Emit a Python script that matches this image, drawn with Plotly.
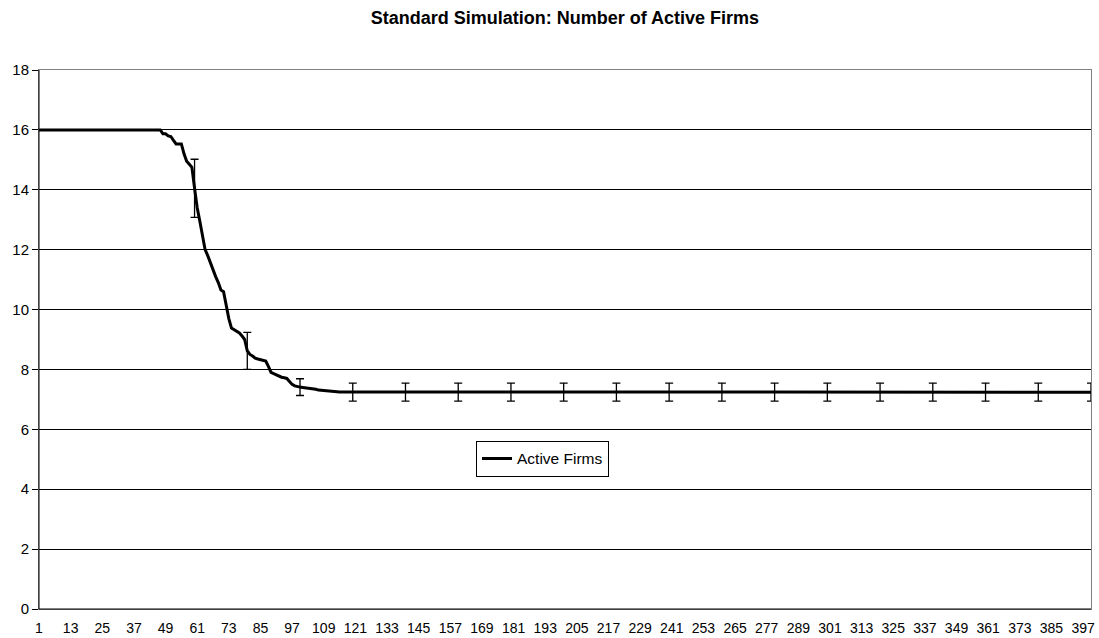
import plotly.graph_objects as go

# ---- data ----
n_periods = 400
plateau_start_value = 16.0
plateau_start_len = 47          # periods 1..47
transition_values = [           # periods 48..119
    15.87, 15.87, 15.80, 15.78, 15.65, 15.53, 15.53, 15.53, 15.20, 14.95,
    14.85, 14.75, 14.05, 13.40, 12.95, 12.40, 12.00, 11.80, 11.55, 11.35,
    11.10, 10.90, 10.65, 10.60, 10.10, 9.70, 9.38, 9.32, 9.28, 9.22,
    9.12, 9.00, 8.62, 8.50, 8.45, 8.38, 8.35, 8.32, 8.30, 8.28,
    8.10, 7.90, 7.86, 7.82, 7.76, 7.74, 7.72, 7.70, 7.60, 7.50,
    7.45, 7.42, 7.41, 7.40, 7.39, 7.39, 7.38, 7.37, 7.34, 7.31,
    7.30, 7.29, 7.28, 7.27, 7.26, 7.26, 7.25, 7.25, 7.25, 7.25,
    7.24, 7.24,
]
plateau_end_value = 7.24

active_firms = ([plateau_start_value] * plateau_start_len + transition_values)
active_firms += [plateau_end_value] * (n_periods - len(active_firms))
periods = list(range(1, n_periods + 1))

errbar_periods = [60, 80, 100, 120, 140, 160, 180, 200, 220, 240, 260, 280,
                  300, 320, 340, 360, 380, 400]
errbar_sizes = [0.97, 0.62, 0.28, 0.30, 0.30, 0.30, 0.30, 0.30, 0.30, 0.30,
                0.30, 0.30, 0.30, 0.30, 0.30, 0.30, 0.30, 0.30]
errbar_values = [active_firms[p - 1] for p in errbar_periods]

xtick_vals = list(range(1, 398, 12))
ytick_vals = [0, 2, 4, 6, 8, 10, 12, 14, 16, 18]

FONT = "Liberation Sans, Arial, sans-serif"

fig = go.Figure()
fig.add_trace(go.Scatter(
    x=errbar_periods, y=errbar_values, mode="markers",
    marker=dict(size=1, color="rgba(0,0,0,0)"),
    error_y=dict(type="data", array=errbar_sizes, visible=True,
                 color="black", thickness=1.3, width=4),
    showlegend=False, hoverinfo="skip",
))
fig.add_trace(go.Scatter(
    x=periods, y=active_firms, mode="lines", name="Active Firms",
    line=dict(color="black", width=3),
))

fig.update_layout(
    width=1099, height=638,
    margin=dict(l=39, r=8, t=70, b=29, autoexpand=False),
    paper_bgcolor="white", plot_bgcolor="white",
    font=dict(family=FONT, color="black", size=15),
    title=dict(text="<b>Standard Simulation: Number of Active Firms</b>",
               x=0.514, xanchor="center", y=0.972, yanchor="middle",
               font=dict(family=FONT, size=18, color="black")),
    showlegend=True,
    legend=dict(x=0.4154, y=0.312, xanchor="left", yanchor="top",
                bgcolor="white", bordercolor="black", borderwidth=1,
                font=dict(family=FONT, size=15.5, color="black"),
                itemwidth=30, tracegroupgap=0),
)
fig.update_xaxes(
    range=[1, 400], tickmode="array", tickvals=xtick_vals,
    ticktext=[str(v) for v in xtick_vals],
    showgrid=False, zeroline=False, automargin=False,
    showline=True, linecolor="#808080", linewidth=1, mirror=True,
    ticks="", ticklabelstandoff=6,
    tickfont=dict(family=FONT, size=14, color="black"),
)
fig.update_yaxes(
    range=[0, 18], tickmode="array", tickvals=ytick_vals,
    showgrid=True, gridcolor="black", gridwidth=1, zeroline=False,
    automargin=False,
    showline=True, linecolor="#808080", linewidth=1, mirror=True,
    ticks="outside", ticklen=6, tickcolor="black",
    tickfont=dict(family=FONT, size=15, color="black"),
)
# black left and bottom axis lines over the grey frame
fig.add_shape(type="line", xref="paper", yref="paper", x0=0, x1=0, y0=0, y1=1,
              line=dict(color="black", width=1))
fig.add_shape(type="line", xref="paper", yref="paper", x0=0, x1=1, y0=0, y1=0,
              line=dict(color="black", width=1))

fig.write_html("out.html")
